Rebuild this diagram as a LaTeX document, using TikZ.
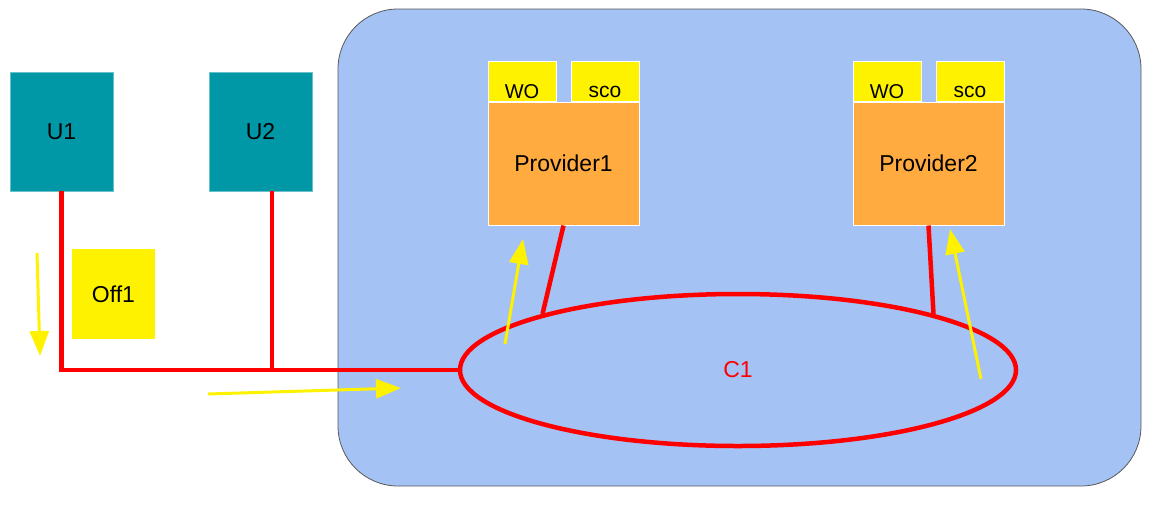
\documentclass[tikz,border=0pt]{standalone}
\usepackage{fontspec}
\setmainfont{Liberation Sans}
\usetikzlibrary{positioning,arrows.meta,shapes.geometric}
\definecolor{cdTeal}{RGB}{0,151,167}
\definecolor{cdCloud}{RGB}{164,194,244}
\definecolor{cdOrange}{RGB}{255,171,64}
\definecolor{cdEdge}{RGB}{89,89,89}

\begin{document}
\begin{tikzpicture}[
    x=1pt, y=-1pt,
    user/.style={rectangle, draw=cdTeal!60, fill=cdTeal, line width=0.6pt, minimum width=103pt, minimum height=119pt, inner sep=0pt, font=\fontsize{23}{26}\selectfont},
    office/.style={rectangle, fill=yellow, minimum width=83pt, minimum height=90pt, inner sep=0pt, font=\fontsize{23}{26}\selectfont},
    provider/.style={rectangle, draw=white, fill=cdOrange, line width=1pt, minimum width=151pt, minimum height=123pt, inner sep=0pt, font=\fontsize{23}{26}\selectfont},
    tag/.style={rectangle, draw=white, fill=yellow, line width=1pt, minimum width=68pt, minimum height=40pt, inner sep=0pt, text height=34pt, text depth=1pt, font=\fontsize{20}{22}\selectfont},
    link/.style={draw=red, line width=4.5pt},
    flow/.style={draw=yellow, line width=3pt, -{Triangle[length=25pt,width=19pt]}}
]
  \useasboundingbox (0,0) rectangle (1161,507);

  % cloud
  \draw[cdEdge, fill=cdCloud, line width=0.8pt, rounded corners=60pt] (338,9) rectangle (1141,486);

  \node[user] (u1) at (61.5,131.5) {U1};
  \node[user] (u2) at (260.5,131.5) {U2};
  \node[office] (off1) at (113.5,294) {Off1};

  \node[provider] (p1) at (563.5,163.5) {Provider1};
  \node[tag, above=0pt of p1.north west, anchor=south west, yshift=-0.5pt] (wo1) {WO};
  \node[tag, above=0pt of p1.north east, anchor=south east, yshift=-0.5pt, text height=32pt, text depth=0pt, font=\fontsize{21}{22}\selectfont] (sco1) {sco};
  \node[provider] (p2) at (928.5,163.5) {Provider2};
  \node[tag, above=0pt of p2.north west, anchor=south west, yshift=-0.5pt] (wo2) {WO};
  \node[tag, above=0pt of p2.north east, anchor=south east, yshift=-0.5pt, text height=32pt, text depth=0pt, font=\fontsize{21}{22}\selectfont] (sco2) {sco};

  \node[ellipse, draw=red, line width=4.5pt, minimum width=556pt, minimum height=152pt, inner sep=0pt, text=red, font=\fontsize{23}{26}\selectfont] (c1) at (738,370) {C1};

  % links
  \coordinate (hub) at (u1.south |- c1.west);
  \coordinate (u2foot) at ([xshift=11.5pt]u2.south);
  \draw[link] (u1.south) -- (hub) -- (c1.west);
  \draw[link] (u2foot) -- (u2foot |- c1.west);
  \draw[link] (p1.south) -- (c1.164);
  \draw[link] (p2.south) -- (c1.16);

  % flows
  \coordinate (f1a) at (37,253);
  \coordinate (f1b) at (40,356);
  \coordinate (f2a) at (208,394);
  \coordinate (f2b) at (401,388);
  \coordinate (f3a) at (505,344);
  \coordinate (f3b) at (523,239);
  \coordinate (f4a) at (981,379);
  \coordinate (f4b) at (950,229);
  \draw[flow] (f1a) -- (f1b);
  \draw[flow] (f2a) -- (f2b);
  \draw[flow] (f3a) -- (f3b);
  \draw[flow] (f4a) -- (f4b);
\end{tikzpicture}
\end{document}
